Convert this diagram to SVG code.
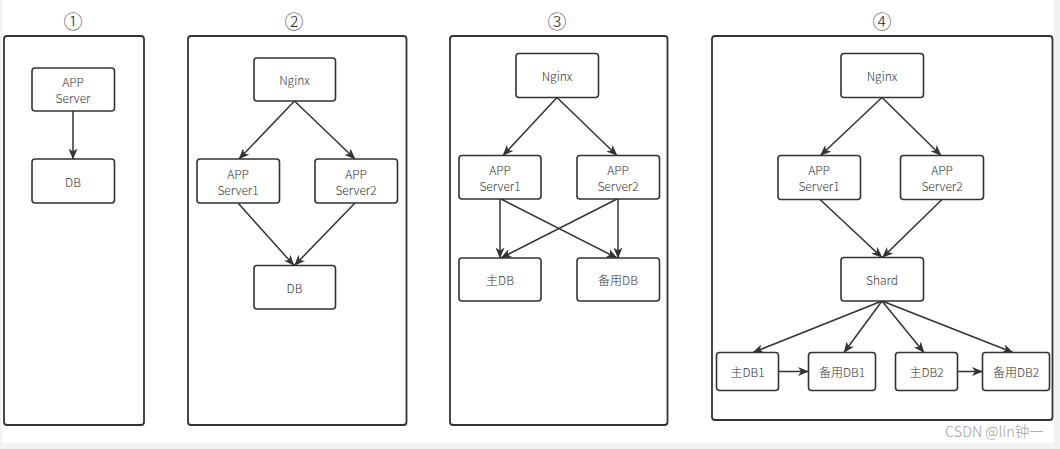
<svg xmlns="http://www.w3.org/2000/svg" width="1060" height="449" viewBox="0 0 1060 449">
<style>
.frame{fill:#fff;stroke:#333;stroke-width:1.8}
.box{fill:#fff;stroke:#333;stroke-width:1.6}
.t{font-family:"Noto Sans CJK SC","Liberation Sans",sans-serif;font-size:12px;font-weight:300;fill:#333;text-anchor:middle;dominant-baseline:central}
.num{font-family:"Noto Sans CJK SC","DejaVu Sans",sans-serif;font-size:19px;font-weight:300;fill:#333;text-anchor:middle;dominant-baseline:central}
.c{fill:none;stroke:#333;stroke-width:1.5;marker-end:url(#arr)}
.wm{font-family:"Noto Sans CJK SC","Liberation Sans",sans-serif;font-size:14.5px;font-weight:300;fill:#a0a0a0}
</style>
<defs>
<marker id="arr" markerUnits="userSpaceOnUse" markerWidth="11" markerHeight="9" viewBox="0 0 11 9" refX="10.5" refY="4.5" orient="auto">
<path d="M0,0 L11,4.5 L0,9 L3,4.5 z" fill="#333"/>
</marker>
</defs>
<rect x="0" y="0" width="1060" height="449" fill="#f2f2f2"/>
<rect x="2" y="0" width="1052" height="443" fill="#fff"/>

<g id="panel1">
<text class="num" x="73" y="20">①</text>
<rect class="frame" x="4" y="36" width="140" height="389" rx="3"/>
</g>
<g id="panel2">
<text class="num" x="294" y="20">②</text>
<rect class="frame" x="188" y="36" width="218.5" height="389" rx="3"/>
</g>
<g id="panel3">
<text class="num" x="557" y="20">③</text>
<rect class="frame" x="450" y="36" width="217.5" height="389" rx="3"/>
</g>
<g id="panel4">
<text class="num" x="882" y="20">④</text>
<rect class="frame" x="712" y="36" width="340.5" height="384" rx="3"/>
</g>

<g id="connectors">
<path class="c" d="M73,111 L73,159"/>
<path class="c" d="M294.5,101 L239,159"/>
<path class="c" d="M294.5,101 L355,159"/>
<path class="c" d="M238,203 L294,265.5"/>
<path class="c" d="M355,203 L294.5,265.5"/>
<path class="c" d="M557,97.5 L503,155.5"/>
<path class="c" d="M557,97.5 L617,155.5"/>
<path class="c" d="M500,199 L500,258"/>
<path class="c" d="M501,199 L617,258"/>
<path class="c" d="M617,199 L501,258"/>
<path class="c" d="M618,199 L618,258"/>
<path class="c" d="M882,97.5 L820.5,155.5"/>
<path class="c" d="M882,97.5 L941,155.5"/>
<path class="c" d="M820,199.5 L882,257.5"/>
<path class="c" d="M942,199.5 L882.5,257.5"/>
<path class="c" d="M882,301 L753,352.5"/>
<path class="c" d="M882,301 L844,352.5"/>
<path class="c" d="M882,301 L924,352.5"/>
<path class="c" d="M882,301 L1013,352.5"/>
<path class="c" d="M778.5,371.5 L808.5,371.5"/>
<path class="c" d="M957.5,371.5 L982.5,371.5"/>
</g>

<g id="p1-app"><rect class="box" x="32" y="68" width="82.5" height="43" rx="3"/><text class="t" x="73" y="81">APP</text><text class="t" x="73" y="97">Server</text></g>
<g id="p1-db"><rect class="box" x="32" y="159" width="82.5" height="44" rx="3"/><text class="t" x="73" y="181">DB</text></g>

<g id="p2-nginx"><rect class="box" x="254" y="58" width="81.5" height="43" rx="3"/><text class="t" x="294.5" y="79.5">Nginx</text></g>
<g id="p2-s1"><rect class="box" x="197" y="159" width="82.5" height="44" rx="3"/><text class="t" x="238" y="173">APP</text><text class="t" x="238" y="189">Server1</text></g>
<g id="p2-s2"><rect class="box" x="315" y="159" width="82.5" height="44" rx="3"/><text class="t" x="356" y="173">APP</text><text class="t" x="356" y="189">Server2</text></g>
<g id="p2-db"><rect class="box" x="254" y="265.5" width="81.5" height="43.5" rx="3"/><text class="t" x="294.5" y="287.5">DB</text></g>

<g id="p3-nginx"><rect class="box" x="516" y="53.5" width="82.5" height="44" rx="3"/><text class="t" x="557" y="75.5">Nginx</text></g>
<g id="p3-s1"><rect class="box" x="459" y="155.5" width="82" height="43.5" rx="3"/><text class="t" x="500" y="169.5">APP</text><text class="t" x="500" y="185.5">Server1</text></g>
<g id="p3-s2"><rect class="box" x="577" y="155.5" width="82.5" height="43.5" rx="3"/><text class="t" x="618" y="169.5">APP</text><text class="t" x="618" y="185.5">Server2</text></g>
<g id="p3-main"><rect class="box" x="459" y="258" width="82" height="43" rx="3"/><text class="t" x="500" y="279.5">主DB</text></g>
<g id="p3-backup"><rect class="box" x="577" y="258" width="82.5" height="43" rx="3"/><text class="t" x="618" y="279.5">备用DB</text></g>

<g id="p4-nginx"><rect class="box" x="841" y="53.5" width="82.5" height="44" rx="3"/><text class="t" x="882" y="75.5">Nginx</text></g>
<g id="p4-s1"><rect class="box" x="778" y="155.5" width="82.5" height="44" rx="3"/><text class="t" x="819" y="169.5">APP</text><text class="t" x="819" y="185.5">Server1</text></g>
<g id="p4-s2"><rect class="box" x="900.5" y="155.5" width="83" height="44" rx="3"/><text class="t" x="942" y="169.5">APP</text><text class="t" x="942" y="185.5">Server2</text></g>
<g id="p4-shard"><rect class="box" x="841" y="257.5" width="82.5" height="43.5" rx="3"/><text class="t" x="882" y="279">Shard</text></g>
<g id="p4-main1"><rect class="box" x="716.5" y="352.5" width="62" height="38" rx="3"/><text class="t" x="747.5" y="371.5">主DB1</text></g>
<g id="p4-backup1"><rect class="box" x="808.5" y="352.5" width="67" height="38" rx="3"/><text class="t" x="842" y="371.5">备用DB1</text></g>
<g id="p4-main2"><rect class="box" x="895.5" y="352.5" width="62" height="38" rx="3"/><text class="t" x="926.5" y="371.5">主DB2</text></g>
<g id="p4-backup2"><rect class="box" x="982.5" y="352.5" width="67" height="38" rx="3"/><text class="t" x="1016" y="371.5">备用DB2</text></g>

<text class="wm" x="945" y="437">CSDN @lin钟一</text>
</svg>
